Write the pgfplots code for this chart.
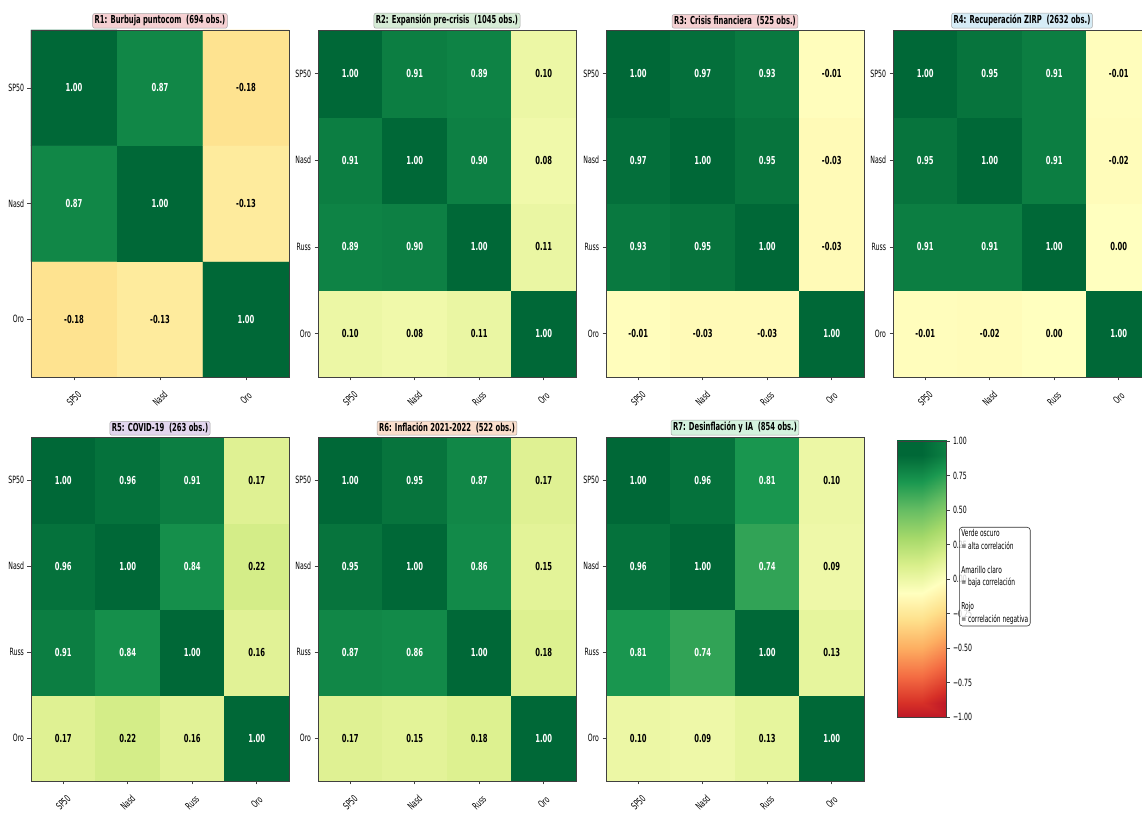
\documentclass[border=0pt]{standalone}
\usepackage{pgfplots}
\pgfplotsset{compat=1.18}
\usepackage{pgfplotstable}
\usepackage{fontspec}
\setmainfont{DejaVu Sans}[FakeStretch=0.62]

\definecolor{tRa}{RGB}{245,208,210}
\definecolor{tRb}{RGB}{214,236,214}
\definecolor{tRd}{RGB}{214,236,246}
\definecolor{tRe}{RGB}{226,214,238}
\definecolor{tRf}{RGB}{250,222,204}
\definecolor{tRg}{RGB}{212,242,222}

\pgfplotsset{colormap={RdYlGn}{rgb255=(165,0,38) rgb255=(215,48,39) rgb255=(244,109,67) rgb255=(253,174,97) rgb255=(254,224,139) rgb255=(255,255,191) rgb255=(217,239,139) rgb255=(166,217,106) rgb255=(102,189,99) rgb255=(26,152,80) rgb255=(0,104,55)}}

\newcommand\titlefont{\fontsize{11}{13}\selectfont\bfseries}
\newcommand\cellfont{\fontsize{11}{13}\selectfont\bfseries}
\newcommand\tickfont{\fontsize{10}{12}\selectfont}

\pgfplotsset{
  heatbase/.style={scale only axis, width=258pt, enlargelimits=false,
    point meta min=-1, point meta max=1, colormap name=RdYlGn,
    tick align=outside, tick pos=left, major tick length=3.5pt,
    axis line style={draw=black!75, line width=0.7pt},
    tick style={draw=black!75, line width=0.6pt},
    xticklabel style={font=\tickfont, yshift=-18pt, rotate=45, anchor=center},
    yticklabel style={font=\tickfont},
    every axis title shift=0pt,
    title style={at={(0.5,1)}, anchor=south, yshift=1.5pt, font=\titlefont,
      draw=black!35, rounded corners=2pt, inner sep=2pt, line width=0.5pt},
    axis on top},
  heat4/.style={heatbase, xmin=-0.5, xmax=3.5, ymin=-0.5, ymax=3.5,
    xtick={0,1,2,3}, xticklabels={SP50,Nasd,Russ,Oro},
    ytick={0,1,2,3}, yticklabels={Oro,Russ,Nasd,SP50}},
  heat3/.style={heatbase, xmin=-0.5, xmax=2.5, ymin=-0.5, ymax=2.5,
    xtick={0,1,2}, xticklabels={SP50,Nasd,Oro},
    ytick={0,1,2}, yticklabels={Oro,Nasd,SP50}},
  cells/.style={matrix plot*, mesh/cols=#1, point meta=explicit},
  valsbase/.style={only marks, mark=none, nodes near coords={\pgfplotspointmeta},
    point meta=explicit symbolic},
  valsW/.style={valsbase, restrict expr to domain={\thisrow{w}}{0.5:1.5},
    every node near coord/.append style={anchor=center, text=white, font=\cellfont}},
  valsB/.style={valsbase, restrict expr to domain={\thisrow{w}}{-0.5:0.5},
    every node near coord/.append style={anchor=center, text=black, font=\cellfont}},
}

% y: 0 = Oro (bottom row); w = 1 -> white text
\pgfplotstableread{
x y c w
0 0 -0.18 0
1 0 -0.13 0
2 0 1.00 1
0 1 0.87 1
1 1 1.00 1
2 1 -0.13 0
0 2 1.00 1
1 2 0.87 1
2 2 -0.18 0
}\Ra

\pgfplotstableread{
x y c w
0 0 0.10 0
1 0 0.08 0
2 0 0.11 0
3 0 1.00 1
0 1 0.89 1
1 1 0.90 1
2 1 1.00 1
3 1 0.11 0
0 2 0.91 1
1 2 1.00 1
2 2 0.90 1
3 2 0.08 0
0 3 1.00 1
1 3 0.91 1
2 3 0.89 1
3 3 0.10 0
}\Rb

\pgfplotstableread{
x y c w
0 0 -0.01 0
1 0 -0.03 0
2 0 -0.03 0
3 0 1.00 1
0 1 0.93 1
1 1 0.95 1
2 1 1.00 1
3 1 -0.03 0
0 2 0.97 1
1 2 1.00 1
2 2 0.95 1
3 2 -0.03 0
0 3 1.00 1
1 3 0.97 1
2 3 0.93 1
3 3 -0.01 0
}\Rc

\pgfplotstableread{
x y c w
0 0 -0.01 0
1 0 -0.02 0
2 0 0.00 0
3 0 1.00 1
0 1 0.91 1
1 1 0.91 1
2 1 1.00 1
3 1 0.00 0
0 2 0.95 1
1 2 1.00 1
2 2 0.91 1
3 2 -0.02 0
0 3 1.00 1
1 3 0.95 1
2 3 0.91 1
3 3 -0.01 0
}\Rd

\pgfplotstableread{
x y c w
0 0 0.17 0
1 0 0.22 0
2 0 0.16 0
3 0 1.00 1
0 1 0.91 1
1 1 0.84 1
2 1 1.00 1
3 1 0.16 0
0 2 0.96 1
1 2 1.00 1
2 2 0.84 1
3 2 0.22 0
0 3 1.00 1
1 3 0.96 1
2 3 0.91 1
3 3 0.17 0
}\Re

\pgfplotstableread{
x y c w
0 0 0.17 0
1 0 0.15 0
2 0 0.18 0
3 0 1.00 1
0 1 0.87 1
1 1 0.86 1
2 1 1.00 1
3 1 0.18 0
0 2 0.95 1
1 2 1.00 1
2 2 0.86 1
3 2 0.15 0
0 3 1.00 1
1 3 0.95 1
2 3 0.87 1
3 3 0.17 0
}\Rf

\pgfplotstableread{
x y c w
0 0 0.10 0
1 0 0.09 0
2 0 0.13 0
3 0 1.00 1
0 1 0.81 1
1 1 0.74 1
2 1 1.00 1
3 1 0.13 0
0 2 0.96 1
1 2 1.00 1
2 2 0.74 1
3 2 0.09 0
0 3 1.00 1
1 3 0.96 1
2 3 0.81 1
3 3 0.10 0
}\Rg

\begin{document}
\begin{tikzpicture}
\useasboundingbox (0,0) rectangle (1142pt,813pt);

\begin{axis}[heat3, at={(31pt,436pt)}, anchor=south west, height=347pt,
  title={R1: Burbuja puntocom\ \ (694 obs.)}, title style={fill=tRa}]
\addplot[cells=3] table[x=x,y=y,meta=c]{\Ra};
\addplot[valsW] table[x=x,y=y,meta=c]{\Ra};
\addplot[valsB] table[x=x,y=y,meta=c]{\Ra};
\end{axis}

\begin{axis}[heat4, at={(318pt,436pt)}, anchor=south west, height=347pt,
  title={R2: Expansión pre-crisis\ \ (1045 obs.)}, title style={fill=tRb}]
\addplot[cells=4] table[x=x,y=y,meta=c]{\Rb};
\addplot[valsW] table[x=x,y=y,meta=c]{\Rb};
\addplot[valsB] table[x=x,y=y,meta=c]{\Rb};
\end{axis}

\begin{axis}[heat4, at={(606pt,436pt)}, anchor=south west, height=347pt,
  title={R3: Crisis financiera\ \ (525 obs.)}, title style={fill=tRa}]
\addplot[cells=4] table[x=x,y=y,meta=c]{\Rc};
\addplot[valsW] table[x=x,y=y,meta=c]{\Rc};
\addplot[valsB] table[x=x,y=y,meta=c]{\Rc};
\end{axis}

\begin{axis}[heat4, at={(893pt,436pt)}, anchor=south west, height=347pt,
  title={R4: Recuperación ZIRP\ \ (2632 obs.)}, title style={fill=tRd}]
\addplot[cells=4] table[x=x,y=y,meta=c]{\Rd};
\addplot[valsW] table[x=x,y=y,meta=c]{\Rd};
\addplot[valsB] table[x=x,y=y,meta=c]{\Rd};
\end{axis}

\begin{axis}[heat4, at={(31pt,32pt)}, anchor=south west, height=344pt,
  title={R5: COVID-19\ \ (263 obs.)}, title style={fill=tRe}]
\addplot[cells=4] table[x=x,y=y,meta=c]{\Re};
\addplot[valsW] table[x=x,y=y,meta=c]{\Re};
\addplot[valsB] table[x=x,y=y,meta=c]{\Re};
\end{axis}

\begin{axis}[heat4, at={(318pt,32pt)}, anchor=south west, height=344pt,
  title={R6: Inflación 2021-2022\ \ (522 obs.)}, title style={fill=tRf}]
\addplot[cells=4] table[x=x,y=y,meta=c]{\Rf};
\addplot[valsW] table[x=x,y=y,meta=c]{\Rf};
\addplot[valsB] table[x=x,y=y,meta=c]{\Rf};
\end{axis}

\begin{axis}[heat4, at={(606pt,32pt)}, anchor=south west, height=344pt,
  title={R7: Desinflación y IA\ \ (854 obs.)}, title style={fill=tRg}]
\addplot[cells=4] table[x=x,y=y,meta=c]{\Rg};
\addplot[valsW] table[x=x,y=y,meta=c]{\Rg};
\addplot[valsB] table[x=x,y=y,meta=c]{\Rg};
\end{axis}

% colorbar
\begin{axis}[at={(897pt,96pt)}, anchor=south west, scale only axis,
  width=49pt, height=276pt, xmin=0, xmax=1, ymin=-1, ymax=1,
  enlargelimits=false, colormap name=RdYlGn, point meta min=-1, point meta max=1,
  xtick=\empty, ytick={-1,-0.75,-0.5,-0.25,0,0.25,0.5,0.75,1},
  yticklabels={−1.00,−0.75,−0.50,−0.25,0.00,0.25,0.50,0.75,1.00},
  ytick pos=right, yticklabel pos=right, tick align=outside, major tick length=3.5pt,
  yticklabel style={font=\tickfont},
  axis line style={draw=black!75, line width=0.6pt},
  tick style={draw=black!75, line width=0.6pt}, axis on top]
\addplot[surf, shader=interp, mesh/cols=2, point meta=y] coordinates {
(0,-1) (1,-1)
(0,-0.8) (1,-0.8)
(0,-0.6) (1,-0.6)
(0,-0.4) (1,-0.4)
(0,-0.2) (1,-0.2)
(0,0) (1,0)
(0,0.2) (1,0.2)
(0,0.4) (1,0.4)
(0,0.6) (1,0.6)
(0,0.8) (1,0.8)
(0,1) (1,1)
};
\node[rotate=90, font=\tickfont] at (axis description cs:1.63,0.5) {Correlación};
\end{axis}

\node[draw=black!80, rounded corners=3pt, fill=white, fill opacity=0.8, text opacity=1,
  align=left, anchor=north west, inner sep=2pt, line width=0.6pt,
  font=\fontsize{9.5}{12.5}\selectfont] at (959pt,286pt)
  {Verde oscuro\\= alta correlación\\[11.5pt]Amarillo claro\\= baja correlación\\[11.5pt]Rojo\\= correlación negativa};
\end{tikzpicture}
\end{document}
